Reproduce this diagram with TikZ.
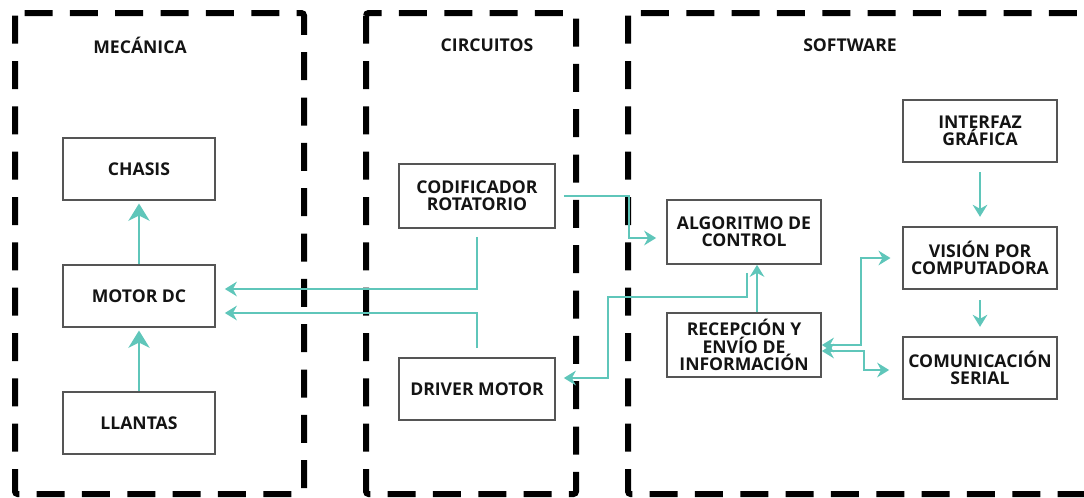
\documentclass[tikz,border=0pt]{standalone}
\usepackage{fontspec}
\setmainfont{Open Sans}
\usepackage{xcolor}
\definecolor{turq}{HTML}{5FC6BA}
\definecolor{boxgray}{HTML}{555555}
\definecolor{textdark}{HTML}{141414}
\usepackage{tikz}
\usetikzlibrary{positioning,arrows.meta}

\begin{document}
\begin{tikzpicture}[
  x=0.75pt, y=-0.75pt,
  font=\bfseries\fontsize{13.2}{12.9}\selectfont, text=textdark,
  bloque/.style={
    draw=boxgray, line width=1.3pt, fill=white,
    minimum width=114pt, minimum height=46.5pt,
    align=center, inner sep=2pt,
  },
  marco/.style={
    draw=black, line width=4.5pt, rounded corners=2pt,
    dash pattern=on 21pt off 13pt,
  },
  titulo/.style={font=\bfseries\fontsize{13.2}{13}\selectfont},
  linea/.style={draw=turq, line width=1.6pt},
  flecha/.style={linea, -{Stealth[length=9pt,width=11pt,inset=3pt]}},
  flechadoble/.style={linea, {Stealth[length=9pt,width=11pt,inset=3pt]}-{Stealth[length=9pt,width=11pt,inset=3pt]}},
  flechagrande/.style={linea, -{Stealth[length=13pt,width=16pt,inset=4pt]}},
]

% Page size of the reference (1 unit = 1 px)
\clip (0,0) rectangle (1084,497);

% Dashed frames of the three areas
\draw[marco] (15,13) rectangle (304,494);
\draw[marco] (366,13) rectangle (576,494);
\draw[marco] (628,13) rectangle (1100,494);

\node[titulo] (tmecanica)  at (140,45) {MECÁNICA};
\node[titulo] (tcircuitos) at (487,45) {CIRCUITOS};
\node[titulo] (tsoftware)  at (850,45) {SOFTWARE};

% Mechanics
\node[bloque] (chasis)  at (139,169) {CHASIS};
\node[bloque] (motor)   at (139,296) {MOTOR DC};
\node[bloque] (llantas) at (139,423) {LLANTAS};

% Circuits
\node[bloque, minimum width=117pt, minimum height=48pt] (codif)  at (477,196) {CODIFICADOR\\ROTATORIO};
\node[bloque, minimum width=117pt] (driver) at (477,389) {DRIVER MOTOR};

% Software
\node[bloque, minimum width=115.5pt, minimum height=48pt] (alg)   at (744,232) {ALGORITMO DE\\CONTROL};
\node[bloque, minimum width=115.5pt, minimum height=48pt] (recep) at (744,345) {RECEPCIÓN Y\\ENVÍO DE\\INFORMACIÓN};
\node[bloque, minimum width=115pt, minimum height=47pt] (interfaz) at (980,131) {INTERFAZ\\GRÁFICA};
\node[bloque, minimum width=115pt, minimum height=47pt] (vision)   at (980,258) {VISIÓN POR\\COMPUTADORA};
\node[bloque, minimum width=115pt, minimum height=47pt] (serial)   at (980,368) {COMUNICACIÓN\\SERIAL};

% Connectors inside mechanics
\draw[flechagrande, shorten >=2pt] (motor.north) -- (chasis.south);
\draw[flechagrande, shorten >=2pt] (llantas.north) -- (motor.south);

% Circuits to motor
\draw[flecha, shorten >=6.75pt] ([yshift=-6pt]codif.south) |- ([yshift=5.25pt]motor.east);
\draw[flecha, shorten >=6.75pt] ([yshift=6.75pt]driver.north) |- ([yshift=-12.75pt]motor.east);

% Encoder to control, control to driver
\draw[flecha, shorten >=7.5pt] (codif.east) ++(8,0) -- ++(65,0) |- ([yshift=-4.5pt]alg.west);
\coordinate (codo) at (608,297);
\draw[flecha, shorten >=6pt] ([xshift=2.25pt,yshift=-6pt]alg.south) |- (codo) |- ([yshift=8.25pt]driver.east);

% Inside software
\draw[flecha] ([xshift=9.75pt]recep.north) -- ([xshift=9.75pt]alg.south);
\draw[flechadoble, shorten >=9pt] (recep.east) -- ++(39,0) |- (vision.west);
\draw[flechadoble, shorten >=10pt] ([yshift=-4.5pt]recep.east) -- ++(42,0) |- ([yshift=-1.5pt]serial.west);
\draw[flecha, shorten >=6.75pt] ([yshift=-6.75pt]interfaz.south) -- (vision.north);
\draw[flecha, shorten >=6.75pt] ([yshift=-7.5pt]vision.south) -- (serial.north);

\end{tikzpicture}
\end{document}
